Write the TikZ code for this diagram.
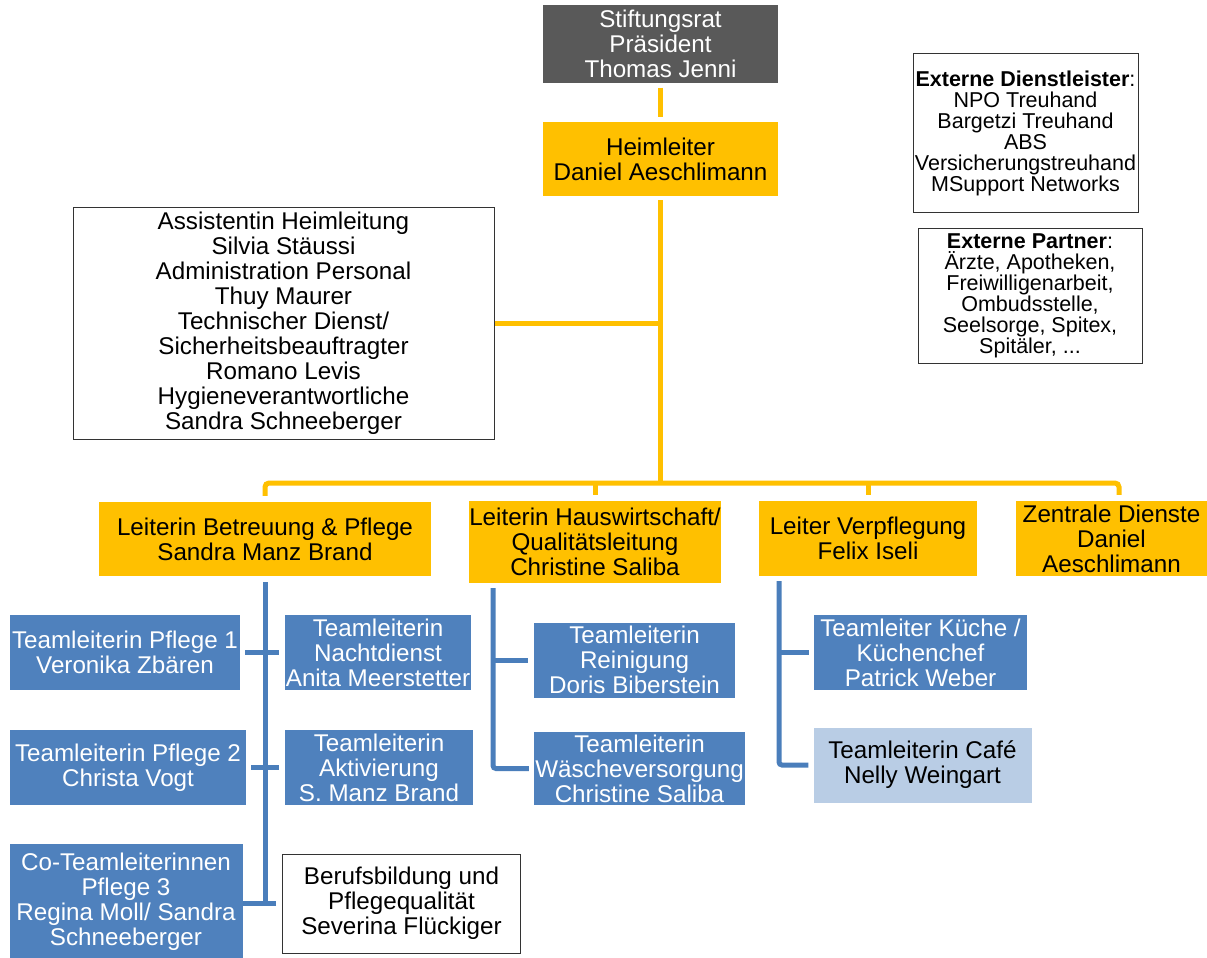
\documentclass[tikz,border=0pt]{standalone}
\usepackage{fontspec}
\setmainfont{Liberation Sans}
\definecolor{orgc}{HTML}{FFC000}
\definecolor{grayc}{HTML}{595959}
\definecolor{bluec}{HTML}{4F81BD}
\definecolor{bluelc}{HTML}{4A7EBB}
\definecolor{lbluec}{HTML}{B9CDE5}
\tikzset{
  box/.style={inner sep=0pt, align=center, font=\fontsize{24.2}{25}\selectfont},
  obox/.style={box, fill=orgc, text=black},
  gbox/.style={box, fill=grayc, text=white},
  bbox/.style={box, fill=bluec, text=white},
  lbbox/.style={box, fill=lbluec, text=black},
  wbox/.style={box, draw=black!80, line width=1pt, fill=white},
  ebox/.style={wbox, font=\fontsize{21.5}{21}\selectfont},
  oline/.style={draw=orgc, line width=5pt},
  bline/.style={draw=bluelc, line width=5pt},
}
\begin{document}
\begin{tikzpicture}[x=1pt, y=-1pt]
\useasboundingbox (0,0) rectangle (1207,958);
\fill[white] (0,0) rectangle (1207,958);

% top
\node[gbox, minimum width=235pt, minimum height=77pt] (stift) at (660.5,44) {Stiftungsrat\\Präsident\\Thomas Jenni};
\node[obox, minimum width=235pt, minimum height=74pt] (heim) at (660.5,159) {Heimleiter\\Daniel Aeschlimann};
\node[wbox, minimum width=421pt, minimum height=232pt] (assist) at (283.5,323) {Assistentin Heimleitung\\Silvia Stäussi\\Administration Personal\\Thuy Maurer\\Technischer Dienst/\\Sicherheitsbeauftragter\\Romano Levis\\Hygieneverantwortliche\\Sandra Schneeberger};

% external
\node[ebox, minimum width=225pt, minimum height=158pt] (extd) at (1025.5,133) {\textbf{Externe Dienstleister}:\\NPO Treuhand\\Bargetzi Treuhand\\ABS\\Versicherungstreuhand\\MSupport Networks};
\node[ebox, minimum width=224pt, minimum height=135pt] (extp) at (1030,295.5) {\textbf{Externe Partner}:\\Ärzte, Apotheken,\\Freiwilligenarbeit,\\Ombudsstelle,\\Seelsorge, Spitex,\\Spitäler, ...};

% second level
\node[obox, minimum width=332pt, minimum height=74pt] (betr) at (265,539) {Leiterin Betreuung \& Pflege\\Sandra Manz Brand};
\node[obox, minimum width=250pt, minimum height=82pt] (haus) at (595,542) {Leiterin Hauswirtschaft/\\Qualitätsleitung\\Christine Saliba};
\node[obox, minimum width=218pt, minimum height=75pt] (verpf) at (868,538.5) {Leiter Verpflegung\\Felix Iseli};
\node[obox, minimum width=191pt, minimum height=75pt] (zentr) at (1111.5,538.5) {Zentrale Dienste\\Daniel\\Aeschlimann};

% teams Betreuung
\node[bbox, minimum width=230pt, minimum height=75pt] (pfl1) at (125,652.5) {Teamleiterin Pflege 1\\Veronika Zbären};
\node[bbox, minimum width=186pt, minimum height=75pt] (nacht) at (378,652.5) {Teamleiterin\\Nachtdienst\\Anita Meerstetter};
\node[bbox, minimum width=236pt, minimum height=75pt] (pfl2) at (128,767.5) {Teamleiterin Pflege 2\\Christa Vogt};
\node[bbox, minimum width=188pt, minimum height=75pt] (aktiv) at (379,767.5) {Teamleiterin\\Aktivierung\\S. Manz Brand};
\node[bbox, minimum width=233pt, minimum height=116pt] (co) at (126,902) {Co-Teamleiterinnen\\Pflege 3\\Regina Moll/ Sandra\\Schneeberger};
\node[wbox, minimum width=238pt, minimum height=99pt] (beruf) at (401.5,903.5) {Berufsbildung und\\Pflegequalität\\Severina Flückiger};

% teams Hauswirtschaft
\node[bbox, minimum width=201pt, minimum height=75pt] (rein) at (634.5,660) {Teamleiterin\\Reinigung\\Doris Biberstein};
\node[bbox, minimum width=211pt, minimum height=73pt] (waesche) at (639.5,768.5) {Teamleiterin\\Wäscheversorgung\\Christine Saliba};

% teams Verpflegung
\node[bbox, minimum width=213pt, minimum height=75pt] (kueche) at (920.5,652.5) {Teamleiter Küche /\\Küchenchef\\Patrick Weber};
\node[lbbox, minimum width=218pt, minimum height=75pt] (cafe) at (922.5,765) {Teamleiterin Café\\Nelly Weingart};

% orange connectors
\coordinate (bus) at (0,483);
\coordinate (zd) at ([xshift=7.5pt]zentr.north);
\draw[oline] ([yshift=-5pt]stift.south) -- ([yshift=5pt]heim.north);
\draw[oline] ([yshift=-4pt]heim.south) -- (heim.south |- bus);
\draw[oline] (assist.east) -- (assist.east -| heim.south);
\draw[oline, rounded corners=4pt] ([yshift=6pt]betr.north) -- (betr.north |- bus) -- (zd |- bus) -- ([yshift=6pt]zd);
\draw[oline] ([yshift=6pt]haus.north) -- (haus.north |- bus);
\draw[oline] ([yshift=6pt]verpf.north) -- (verpf.north |- bus);

% blue connectors Betreuung
\draw[bline] ([yshift=-6pt]betr.south) -- ([yshift=-2.5pt]betr.south |- beruf.west);
\draw[bline] ([xshift=5pt]pfl1.east) -- ([xshift=-6pt]nacht.west);
\draw[bline] ([xshift=5pt]pfl2.east) -- ([xshift=-6pt]aktiv.west);
\draw[bline] ([xshift=-6pt]beruf.west) -- (beruf.west -| co.east);

% blue connectors Hauswirtschaft
\coordinate (t2) at (493,588);
\draw[bline, rounded corners=3pt] (t2) |- ([xshift=-5pt]waesche.west);
\draw[bline] (t2 |- rein.west) -- ([xshift=-6pt]rein.west);

% blue connectors Verpflegung
\coordinate (t3) at (779,581);
\draw[bline, rounded corners=3pt] (t3) |- ([xshift=-5pt]cafe.west);
\draw[bline] (t3 |- kueche.west) -- ([xshift=-5pt]kueche.west);
\end{tikzpicture}
\end{document}
